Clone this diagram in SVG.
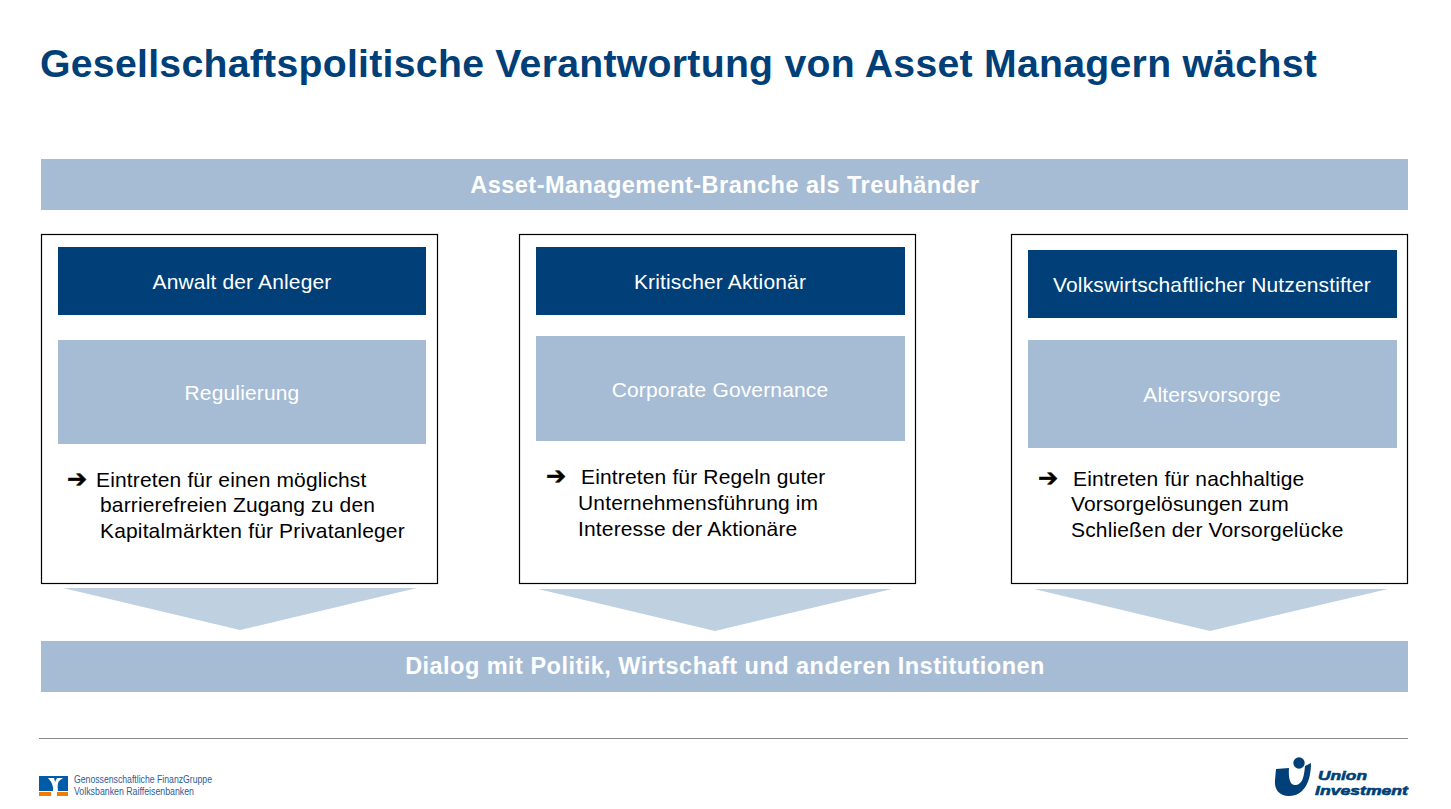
<svg xmlns="http://www.w3.org/2000/svg" width="1451" height="809" viewBox="0 0 1451 809">
<style>
text{font-family:"Liberation Sans",Arial,sans-serif}
.band{fill:#a6bcd5}
.box{fill:#fff;stroke:#000;stroke-width:1.2}
.head{fill:#003f77}
.tri{fill:#bfd0e1}
.bt{fill:#fff;font-size:23.5px;font-weight:700;text-anchor:middle;letter-spacing:.47px}
.ht{fill:#fff;font-size:21px;text-anchor:middle;letter-spacing:.15px}
.st{fill:#fff;font-size:21px;text-anchor:middle;letter-spacing:.15px}
.bd{fill:#000;font-size:21px;letter-spacing:.15px}
.ar{font-family:"DejaVu Sans",sans-serif;font-size:24px;font-weight:700;fill:#000;stroke:#000;stroke-width:.5}
</style>
<rect width="1451" height="809" fill="#fff"/>
<text id="title" x="40" y="77" font-size="39.200" font-weight="700" fill="#003f77" letter-spacing=".28">Gesellschaftspolitische Verantwortung von Asset Managern wächst</text>
<g id="top-band"><rect class="band" x="41" y="159" width="1367" height="51"/><text class="bt" x="725" y="193">Asset-Management-Branche als Treuhänder</text></g>
<g id="col1">
<rect class="box" x="41.500" y="234.500" width="396" height="349"/>
<rect class="head" x="58" y="247" width="368" height="68"/><text class="ht" x="242" y="289">Anwalt der Anleger</text>
<rect class="band" x="58" y="340" width="368" height="104"/><text class="st" x="242" y="400">Regulierung</text>
<text class="ar" x="67" y="487">➔</text>
<text class="bd" x="96" y="487">Eintreten für einen möglichst</text>
<text class="bd" x="100" y="512">barrierefreien Zugang zu den</text>
<text class="bd" x="100" y="538">Kapitalmärkten für Privatanleger</text>
</g>
<g id="col2">
<rect class="box" x="519.500" y="234.500" width="396" height="349"/>
<rect class="head" x="536" y="247" width="369" height="68"/><text class="ht" x="720" y="289">Kritischer Aktionär</text>
<rect class="band" x="536" y="336" width="369" height="105"/><text class="st" x="720" y="397">Corporate Governance</text>
<text class="ar" x="546" y="484">➔</text>
<text class="bd" x="581" y="484">Eintreten für Regeln guter</text>
<text class="bd" x="578" y="510">Unternehmensführung im</text>
<text class="bd" x="578" y="536">Interesse der Aktionäre</text>
</g>
<g id="col3">
<rect class="box" x="1011.500" y="234.500" width="396" height="349"/>
<rect class="head" x="1028" y="250" width="369" height="68"/><text class="ht" x="1212" y="292">Volkswirtschaftlicher Nutzenstifter</text>
<rect class="band" x="1028" y="340" width="369" height="108"/><text class="st" x="1212" y="402">Altersvorsorge</text>
<text class="ar" x="1038" y="486">➔</text>
<text class="bd" x="1073" y="486">Eintreten für nachhaltige</text>
<text class="bd" x="1071" y="511">Vorsorgelösungen zum</text>
<text class="bd" x="1071" y="537">Schließen der Vorsorgelücke</text>
</g>
<g id="connectors">
<polygon class="tri" points="63,588 417,588 240,630"/>
<polygon class="tri" points="538,589 892,589 715,631"/>
<polygon class="tri" points="1034,589 1388,589 1210,631"/>
</g>
<g id="bottom-band"><rect class="band" x="41" y="641" width="1367" height="51"/><text class="bt" x="725" y="674">Dialog mit Politik, Wirtschaft und anderen Institutionen</text></g>
<line id="rule" x1="39" y1="738.500" x2="1408" y2="738.500" stroke="#8a8a8a" stroke-width="1"/>
<g id="logo-left">
<rect x="39" y="776" width="29" height="15" fill="#005ca9"/>
<rect x="39" y="792" width="12" height="4" fill="#f07d00"/>
<rect x="57" y="792" width="11" height="4" fill="#f07d00"/>
<path d="M48 778h6l1 4 2-4h6l-4 3q-2 3-1 10h-5q1-7-5-13z" fill="#fff"/>
<text x="74" y="783" font-size="10" fill="#2b5c9a" textLength="138" lengthAdjust="spacingAndGlyphs">Genossenschaftliche FinanzGruppe</text>
<text x="74" y="795" font-size="10" fill="#2b5c9a" textLength="120" lengthAdjust="spacingAndGlyphs">Volksbanken Raiffeisenbanken</text>
</g>
<g id="logo-right" fill="#003f77">
<path d="M1276 769L1289 768C1288 780 1291 786 1296 785C1302 784 1304 778 1305 766L1311 763C1311 780 1305 796 1289 796C1279 796 1274 789 1275 780Z"/>
<circle cx="1299" cy="763" r="5.700"/>
<text x="1318" y="779.500" font-size="13.400" font-weight="700" font-style="italic" stroke="#003f77" stroke-width=".6" textLength="49" lengthAdjust="spacingAndGlyphs">Union</text>
<text x="1315" y="794.500" font-size="13.400" font-weight="700" font-style="italic" stroke="#003f77" stroke-width=".6" textLength="93" lengthAdjust="spacingAndGlyphs">Investment</text>
</g>
</svg>
